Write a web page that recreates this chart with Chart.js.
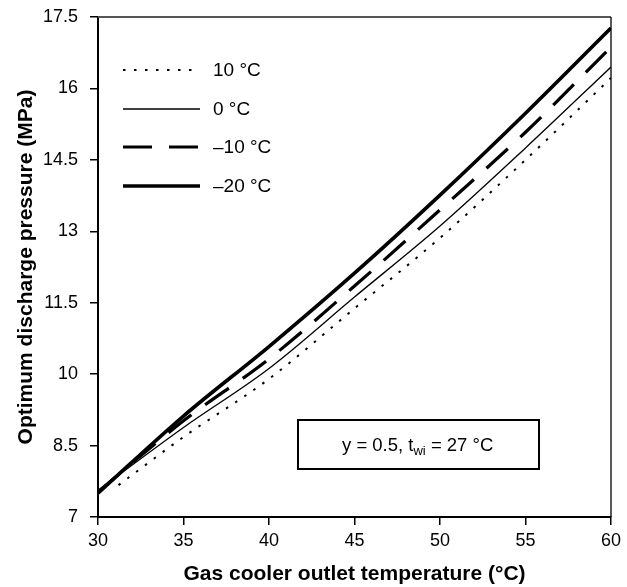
<!DOCTYPE html>
<html>
<head>
<meta charset="utf-8">
<script src="https://cdn.jsdelivr.net/npm/chart.js@4.4.0/dist/chart.umd.min.js"></script>
<style>
  html, body { margin: 0; padding: 0; background: #fff; }
  #wrap { width: 627px; height: 587px; }
</style>
</head>
<body>
<div id="wrap"><canvas id="chart" width="627" height="587"></canvas></div>
<script>
// gas cooler outlet temperature (°C)
var temps = [30, 35, 40, 45, 50, 55, 60];
var tempsDotted = [31.2, 35, 40, 45, 50, 55, 60];

// optimum discharge pressure (MPa) per evaporating temperature
var p10 = [7.67, 8.68, 9.90, 11.38, 12.86, 14.50, 16.22];
var p0 = [7.56, 8.88, 10.12, 11.62, 13.11, 14.75, 16.45];
var pm10 = [7.53, 9.02, 10.32, 11.85, 13.45, 15.08, 16.87];
var pm20 = [7.50, 9.12, 10.58, 12.12, 13.76, 15.48, 17.27];

var seriesLabels = ['10 °C', '0 °C', '–10 °C', '–20 °C'];
var yTicks = [7, 8.5, 10, 11.5, 13, 14.5, 16, 17.5];
var xTicks = [30, 35, 40, 45, 50, 55, 60];

function pts(xs, ys) {
    return xs.map(function(x, i) { return { x: x, y: ys[i] }; });
}

var font = "'Liberation Sans', Arial, sans-serif";

var datasets = [
    { label: seriesLabels[0], data: pts(tempsDotted, p10), borderWidth: 2, borderDash: [2.5, 8.5] },
    { label: seriesLabels[1], data: pts(temps, p0), borderWidth: 1.3, borderDash: [] },
    { label: seriesLabels[2], data: pts(temps, pm10), borderWidth: 3.2, borderDash: [29, 17] },
    { label: seriesLabels[3], data: pts(temps, pm20), borderWidth: 3.6, borderDash: [] }
];
datasets.forEach(function(d) {
    d.borderColor = '#000';
    d.backgroundColor = '#000';
    d.pointRadius = 0;
    d.cubicInterpolationMode = 'monotone';
    d.fill = false;
});

// frame on top/right, legend and note box
var extras = {
    id: 'extras',
    afterDraw: function(chart) {
        var ctx = chart.ctx;
        var a = chart.chartArea;
        ctx.save();
        ctx.strokeStyle = '#555';
        ctx.lineWidth = 2;
        ctx.beginPath();
        ctx.moveTo(a.left, a.top);
        ctx.lineTo(a.right, a.top);
        ctx.stroke();
        ctx.strokeStyle = '#000';
        ctx.lineWidth = 1.3;
        ctx.beginPath();
        ctx.moveTo(a.right, a.top);
        ctx.lineTo(a.right, a.bottom);
        ctx.stroke();

        // legend
        var ly = [70, 109, 147, 186];
        ctx.font = '19px ' + font;
        ctx.textBaseline = 'middle';
        ctx.fillStyle = '#000';
        chart.data.datasets.forEach(function(d, i) {
            ctx.strokeStyle = '#000';
            ctx.lineWidth = d.borderWidth;
            ctx.setLineDash(d.borderDash);
            ctx.beginPath();
            ctx.moveTo(123, ly[i]);
            ctx.lineTo(200, ly[i]);
            ctx.stroke();
            ctx.setLineDash([]);
            ctx.fillText(d.label, 213, ly[i] + 1);
        });

        // note box
        ctx.lineWidth = 2;
        ctx.strokeStyle = '#000';
        ctx.strokeRect(298, 420, 241, 49);
        ctx.textBaseline = 'alphabetic';
        var x = 342, y = 451;
        ctx.font = '18.5px ' + font;
        ctx.fillText('y = 0.5, t', x, y);
        x += ctx.measureText('y = 0.5, t').width;
        ctx.font = '13px ' + font;
        ctx.fillText('wi', x, y + 4);
        x += ctx.measureText('wi').width;
        ctx.font = '18.5px ' + font;
        ctx.fillText(' = 27 °C', x, y);
        ctx.restore();
    }
};

new Chart(document.getElementById('chart'), {
    type: 'line',
    data: { datasets: datasets },
    options: {
        responsive: false,
        animation: false,
        layout: { padding: { top: 17, right: 16, left: 0, bottom: 0 } },
        plugins: { legend: { display: false }, tooltip: { enabled: false } },
        scales: {
            x: {
                type: 'linear',
                min: 30,
                max: 60,
                afterBuildTicks: function(s) { s.ticks = xTicks.map(function(v) { return { value: v }; }); },
                afterFit: function(s) { s.height = 70; s.paddingLeft = 0; s.paddingRight = 0; },
                border: { color: '#000', width: 2 },
                grid: { drawOnChartArea: false, tickLength: 8, color: '#000', lineWidth: 1.5 },
                ticks: { color: '#000', font: { family: font, size: 18 }, padding: 5, maxRotation: 0 },
                title: { display: true, text: 'Gas cooler outlet temperature (°C)', color: '#000',
                    font: { family: font, size: 21, weight: 'bold' }, padding: { top: 8, bottom: 0 } }
            },
            y: {
                type: 'linear',
                min: 7,
                max: 17.5,
                afterBuildTicks: function(s) { s.ticks = yTicks.map(function(v) { return { value: v }; }); },
                afterFit: function(s) { s.width = 98; s.paddingTop = 0; s.paddingBottom = 0; },
                border: { color: '#000', width: 2 },
                grid: { drawOnChartArea: false, tickLength: 8, color: '#000', lineWidth: 1.5 },
                ticks: { color: '#000', font: { family: font, size: 18 }, padding: 12 },
                title: { display: true, text: 'Optimum discharge pressure (MPa)', color: '#000',
                    font: { family: font, size: 21, weight: 'bold' }, padding: { top: 14, bottom: 0 } }
            }
        }
    },
    plugins: [extras]
});
</script>
</body>
</html>
